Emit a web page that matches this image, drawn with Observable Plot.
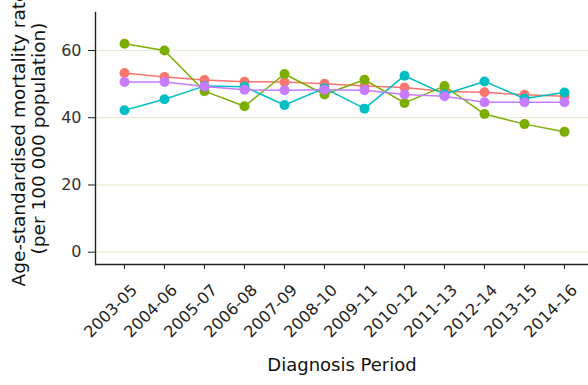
<!DOCTYPE html>
<html>
<head>
<meta charset="utf-8">
<script src="https://cdn.jsdelivr.net/npm/d3@7"></script>
<script src="https://cdn.jsdelivr.net/npm/@observablehq/plot@0.6"></script>
<style>
  html, body { margin: 0; padding: 0; background: #fff; }
  #chart { width: 588px; height: 385px; overflow: hidden; }
</style>
</head>
<body>
<div id="chart"></div>
<script>
const periods = ["2003-05","2004-06","2005-07","2006-08","2007-09","2008-10","2009-11","2010-12","2011-13","2012-14","2013-15","2014-16"];
const seriesNames = ["Series 1", "Series 2", "Series 3", "Series 4"];
const series1 = [53.3, 52.1, 51.2, 50.7, 50.6, 50.1, 49.4, 49.0, 47.8, 47.6, 46.8, 46.4];
const series2 = [62.0, 60.0, 47.9, 43.4, 53.0, 46.9, 51.3, 44.4, 49.4, 41.1, 38.1, 35.8];
const series3 = [42.2, 45.5, 49.4, 49.2, 43.8, 48.8, 42.7, 52.5, 47.0, 50.8, 45.7, 47.5];
const series4 = [50.6, 50.6, 49.3, 48.3, 48.2, 48.3, 48.2, 46.9, 46.4, 44.6, 44.6, 44.6];
const yTicks = [0, 20, 40, 60];
const colors = ["#F8766D", "#7CAE00", "#00BFC4", "#C77CFF"];

const allSeries = [series1, series2, series3, series4];
const data = allSeries.flatMap((vals, i) => vals.map((v, j) => ({series: seriesNames[i], period: periods[j], value: v})));

const yMin = -3.66, yMax = 71.3;
const font = "'DejaVu Sans', Verdana, sans-serif";

const plot = Plot.plot({
  width: 588,
  height: 385,
  marginLeft: 95,
  marginRight: 0,
  marginTop: 12,
  marginBottom: 121,
  style: {fontFamily: font, background: "#fff", color: "#333", overflow: "hidden"},
  x: {type: "point", domain: periods, range: [119.5, 569], padding: 0},
  y: {domain: [yMin, yMax]},
  color: {domain: seriesNames, range: colors},
  marks: [
    Plot.ruleY(yTicks, {stroke: "#e8e8d4", strokeWidth: 1.2}),
    Plot.axisY(yTicks, {tickSize: 7, tickPadding: 7, fontSize: 16, label: null, stroke: "#222", fill: "#333"}),
    Plot.axisX(periods, {tickSize: 5, text: null, label: null, stroke: "#222"}),
    Plot.text(periods, {x: d => d, text: d => d, frameAnchor: "bottom", rotate: -45, textAnchor: "end", lineAnchor: "middle", dx: 10, dy: 23, fontSize: 16, fill: "#222"}),
    Plot.frame({anchor: "left", stroke: "#222", strokeWidth: 1.4}),
    Plot.ruleY([yMin], {stroke: "#222", strokeWidth: 1.4}),
    Plot.line(data, {x: "period", y: "value", z: "series", stroke: "series", strokeWidth: 1.5}),
    Plot.dot(data, {x: "period", y: "value", fill: "series", r: 5}),
    Plot.text(["Diagnosis Period"], {frameAnchor: "bottom", dy: 106, fontSize: 18, fill: "#111", text: d => d}),
    Plot.text(["Age-standardised mortality rate\n(per 100 000 population)"], {frameAnchor: "left", textAnchor: "middle", dx: -67, rotate: -90, fontSize: 18.5, lineHeight: 1.1, fill: "#111", text: d => d})
  ]
});
document.getElementById("chart").appendChild(plot);
</script>
</body>
</html>
